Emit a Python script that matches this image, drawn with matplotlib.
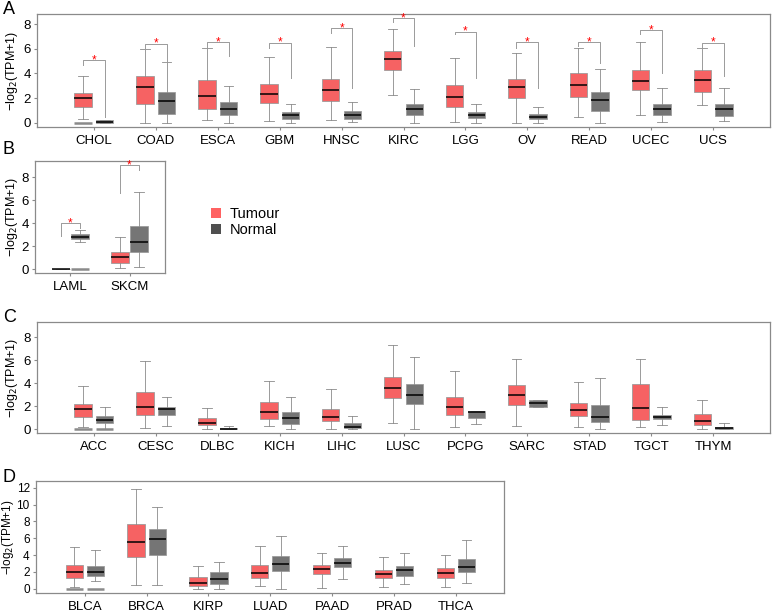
import numpy as np
import matplotlib.pyplot as plt
from matplotlib.patches import Patch

plt.rcParams['font.family'] = ['Liberation Sans', 'DejaVu Sans']

# box stats per group: [whisker low, q1, median, q3, whisker high]
A_cats = ['CHOL', 'COAD', 'ESCA', 'GBM', 'HNSC', 'KIRC', 'LGG', 'OV', 'READ', 'UCEC', 'UCS']
A_tumour = [[0.3, 1.26, 2.0, 2.43, 3.77], [0.0, 1.53, 2.9, 3.83, 5.96], [0.22, 1.12, 2.16, 3.5, 6.07],
            [0.16, 1.56, 2.3, 3.17, 5.36], [0.22, 1.78, 2.68, 3.58, 6.17], [2.27, 4.32, 5.14, 5.82, 7.65],
            [0.08, 1.26, 2.08, 3.06, 5.27], [0.0, 2.0, 2.9, 3.58, 5.68], [0.44, 2.1, 3.06, 4.02, 6.09],
            [0.66, 2.68, 3.42, 4.29, 6.58], [1.42, 2.46, 3.5, 4.29, 6.09]]
A_normal = [[0.0, 0.0, 0.08, 0.2, 0.2], [0.0, 0.74, 1.78, 2.49, 4.97], [0.0, 0.66, 1.15, 1.69, 2.95],
            [0.0, 0.33, 0.6, 0.85, 1.5], [0.03, 0.3, 0.63, 0.96, 1.67], [0.0, 0.6, 1.12, 1.53, 2.73],
            [0.0, 0.41, 0.63, 0.87, 1.53], [0.0, 0.27, 0.46, 0.71, 1.26], [0.0, 0.98, 1.86, 2.51, 4.37],
            [0.03, 0.66, 1.12, 1.53, 2.81], [0.11, 0.57, 1.12, 1.5, 2.81]]
# significance bracket: [top, left leg end, right leg end]
A_sig = [[5.08, 4.7, 0.5], [6.4, 5.96, 4.97], [6.56, 6.07, 5.4], [6.48, 6.1, 3.6], [7.68, 7.3, 2.8],
         [8.5, 8.2, 6.2], [7.4, 7.2, 3.6], [6.56, 6.1, 2.8], [6.56, 6.2, 4.86], [7.51, 7.2, 4.0],
         [6.5, 6.09, 3.77]]

B_cats = ['LAML', 'SKCM']
B_tumour = [[0.0, 0.0, 0.0, 0.0, 0.0], [0.14, 0.58, 1.04, 1.54, 2.84]]
B_normal = [[2.35, 2.64, 2.84, 3.04, 3.42], [0.23, 1.54, 2.41, 3.77, 6.75]]
B_sig = [[4.0, 2.9, 3.6], [9.07, 6.6, 8.6]]

C_cats = ['ACC', 'CESC', 'DLBC', 'KICH', 'LIHC', 'LUSC', 'PCPG', 'SARC', 'STAD', 'TGCT', 'THYM']
C_tumour = [[0.17, 1.1, 1.74, 2.17, 3.77], [0.09, 1.22, 1.91, 3.28, 5.97], [0.06, 0.35, 0.58, 0.96, 1.83],
            [0.29, 0.9, 1.54, 2.35, 4.23], [0.03, 0.7, 1.04, 1.8, 3.48], [0.52, 2.7, 3.62, 4.58, 7.33],
            [0.17, 1.25, 1.91, 2.78, 5.1], [0.29, 2.12, 2.99, 3.83, 6.14], [0.17, 1.13, 1.68, 2.32, 4.14],
            [0.23, 0.78, 1.86, 3.94, 6.09], [0.06, 0.35, 0.72, 1.33, 2.55]]
C_normal = [[0.0, 0.52, 0.81, 1.16, 1.97], [0.32, 1.28, 1.74, 1.94, 2.84], [0.0, 0.0, 0.06, 0.12, 0.26],
            [0.0, 0.43, 1.01, 1.54, 2.78], [0.0, 0.12, 0.2, 0.52, 1.16], [0.03, 2.17, 2.96, 3.91, 6.32],
            [0.46, 1.01, 1.54, 1.59, 1.59], [1.91, 1.91, 2.26, 2.55, 2.55], [0.03, 0.61, 1.07, 2.14, 4.43],
            [0.38, 0.87, 1.07, 1.28, 1.97], [0.0, 0.0, 0.09, 0.17, 0.52]]

D_cats = ['BLCA', 'BRCA', 'KIRP', 'LUAD', 'PAAD', 'PRAD', 'THCA']
D_tumour = [[0.2, 1.27, 1.98, 2.86, 4.96], [0.48, 3.73, 5.6, 7.7, 11.8], [0.0, 0.28, 0.67, 1.39, 2.66],
            [0.32, 1.27, 1.9, 2.82, 5.04], [0.08, 1.75, 2.34, 2.82, 4.25], [0.24, 1.23, 1.75, 2.26, 3.77],
            [0.2, 1.23, 1.87, 2.42, 3.97]]
D_normal = [[0.95, 1.47, 1.98, 2.74, 4.6], [0.48, 3.97, 5.91, 7.06, 9.68], [0.0, 0.6, 1.19, 1.98, 3.21],
            [0.0, 2.06, 2.9, 3.85, 6.31], [1.19, 2.58, 3.06, 3.65, 5.04], [0.56, 1.55, 2.18, 2.7, 4.25],
            [0.67, 1.94, 2.62, 3.53, 5.75]]

# groups that also show a flat bar at zero: (category, 't'/'n')
A_zero = [('CHOL', 't')]
B_zero = [('LAML', 'n')]
C_zero = [('ACC', 't'), ('ACC', 'n')]
D_zero = [('BLCA', 't'), ('BLCA', 'n')]

tumour_col = '#F65A5B'
normal_col = '#6E6E6E'
grey = '#8a8a8a'
fs = 9.5


def stats(s):
    return dict(whislo=s[0], q1=s[1], med=s[2], q3=s[3], whishi=s[4], fliers=[])


def panel(ax, cats, tum, nor, zero, sig, ylim, yticks, xlim, width_px, label_x, off=0.175, w=0.28,
          yfs=9.5, lfs=9):
    x = np.arange(len(cats))
    for data, pos, col in [(tum, x - off, tumour_col), (nor, x + off, normal_col)]:
        ax.bxp([stats(s) for s in data], positions=pos, widths=w, patch_artist=True,
               capwidths=w * 0.55, showfliers=False,
               boxprops=dict(facecolor=col, edgecolor='#9a9a9a', linewidth=0.6, alpha=0.95),
               whiskerprops=dict(color=grey, linewidth=0.6),
               capprops=dict(color=grey, linewidth=0.6),
               medianprops=dict(color='black', linewidth=1.1))
    for c, g in zero:
        i = cats.index(c)
        xc = i - off if g == 't' else i + off
        ax.hlines(0, xc - w / 2, xc + w / 2, color=grey, linewidth=1.8)
    if sig:
        for i, (top, l, r) in enumerate(sig):
            ax.plot([i - off, i - off, i + off, i + off], [l, top, top, r], color='#9a9a9a', linewidth=0.7)
            ax.text(i, top, '*', color='red', ha='center', va='center', fontsize=8.5)
    ax.set_xticks(x)
    ax.set_xticklabels(cats, fontsize=fs)
    ax.set_yticks(yticks)
    ax.tick_params(axis='y', labelsize=yfs, length=2.5, color=grey, pad=2)
    ax.tick_params(axis='x', length=2.5, color=grey, pad=3)
    ax.set_xlim(*xlim)
    ax.set_ylim(*ylim)
    ax.set_ylabel('\u2212log$_2$(TPM+1)', fontsize=lfs)
    ax.yaxis.set_label_coords(label_x / width_px, 0.5)
    for sp in ax.spines.values():
        sp.set_color(grey)
        sp.set_linewidth(0.9)


fig = plt.figure(figsize=(7.77, 6.12), dpi=100)
W, H = 777, 612

axA = fig.add_axes([37 / W, 1 - 127 / H, 733 / W, 113 / H])
panel(axA, A_cats, A_tumour, A_normal, A_zero, A_sig, (-0.35, 8.83), [0, 2, 4, 6, 8], (-0.92, 10.92),
      733, -17)

axB = fig.add_axes([35 / W, 1 - 273 / H, 130 / W, 112 / H])
panel(axB, B_cats, B_tumour, B_normal, B_zero, B_sig, (-0.32, 9.42), [0, 2, 4, 6, 8], (-0.6, 1.6),
      130, -15, off=0.165, w=0.3)

axC = fig.add_axes([37 / W, 1 - 433 / H, 733 / W, 111 / H])
panel(axC, C_cats, C_tumour, C_normal, C_zero, None, (-0.32, 9.33), [0, 2, 4, 6, 8], (-0.92, 10.92),
      733, -17)

axD = fig.add_axes([36 / W, 1 - 593 / H, 468 / W, 112 / H])
panel(axD, D_cats, D_tumour, D_normal, D_zero, None, (-0.51, 12.8), [0, 2, 4, 6, 8, 10, 12], (-0.79, 6.78),
      468, -20, off=0.17, yfs=8.5, lfs=8.5)

for letter, y in [('A', 10), ('B', 149), ('C', 318), ('D', 478)]:
    fig.text(3 / W, 1 - y / H, letter, fontsize=13, va='center', ha='left')

handles = [Patch(facecolor='#FF6262', edgecolor='none'), Patch(facecolor='#4F4F4F', edgecolor='none')]
fig.legend(handles, ['Tumour', 'Normal'], loc='center left', bbox_to_anchor=(198 / W, 1 - 222 / H),
           frameon=False, fontsize=10.5, handlelength=0.7, handleheight=0.7, handletextpad=0.6,
           labelspacing=0.1)

fig.savefig('out.png', dpi=100)
